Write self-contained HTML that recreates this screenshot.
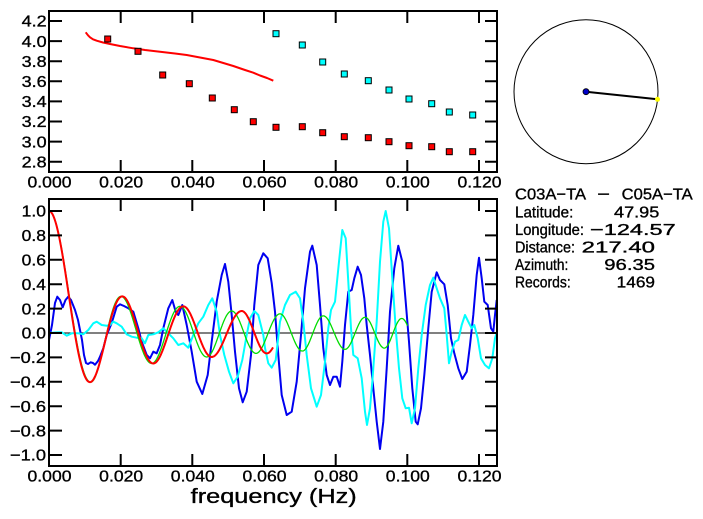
<!DOCTYPE html>
<html>
<head>
<meta charset="utf-8">
<style>
  html,body{margin:0;padding:0;background:#fff;}
  svg{display:block;}
  text{font-family:"Liberation Sans",sans-serif;fill:#000;stroke:#000;stroke-width:0.35;}
</style>
</head>
<body>
<svg id="s" width="703" height="519" viewBox="0 0 703 519" xmlns="http://www.w3.org/2000/svg">
<rect width="703" height="519" fill="#fff"/>

<!-- ===== TOP PLOT ===== -->
<g stroke="#000" stroke-width="2" fill="none">
  <rect x="49" y="11" width="448" height="161"/>
  <path d="M49 21H62M49 41.1H62M49 61.2H62M49 81.3H62M49 101.4H62M49 121.5H62M49 141.6H62M49 161.7H62
           M485 21H497M485 41.1H497M485 61.2H497M485 81.3H497M485 101.4H497M485 121.5H497M485 141.6H497M485 161.7H497
           M120.7 11V23M192.3 11V23M264 11V23M335.7 11V23M407.3 11V23M479 11V23
           M120.7 172V160M192.3 172V160M264 172V160M335.7 172V160M407.3 172V160M479 172V160"/>
</g>
<g font-size="16" text-anchor="end">
  <text x="46.7" y="26.7" textLength="25" lengthAdjust="spacingAndGlyphs">4.2</text>
  <text x="46.7" y="46.8" textLength="25" lengthAdjust="spacingAndGlyphs">4.0</text>
  <text x="46.7" y="66.9" textLength="25" lengthAdjust="spacingAndGlyphs">3.8</text>
  <text x="46.7" y="87" textLength="25" lengthAdjust="spacingAndGlyphs">3.6</text>
  <text x="46.7" y="107.1" textLength="25" lengthAdjust="spacingAndGlyphs">3.4</text>
  <text x="46.7" y="127.2" textLength="25" lengthAdjust="spacingAndGlyphs">3.2</text>
  <text x="46.7" y="147.3" textLength="25" lengthAdjust="spacingAndGlyphs">3.0</text>
  <text x="46.7" y="167.4" textLength="25" lengthAdjust="spacingAndGlyphs">2.8</text>
</g>
<g font-size="16" text-anchor="middle">
  <text x="49.5" y="187.3" textLength="44" lengthAdjust="spacingAndGlyphs">0.000</text>
  <text x="121.2" y="187.3" textLength="44" lengthAdjust="spacingAndGlyphs">0.020</text>
  <text x="192.8" y="187.3" textLength="44" lengthAdjust="spacingAndGlyphs">0.040</text>
  <text x="264.5" y="187.3" textLength="44" lengthAdjust="spacingAndGlyphs">0.060</text>
  <text x="336.2" y="187.3" textLength="44" lengthAdjust="spacingAndGlyphs">0.080</text>
  <text x="407.8" y="187.3" textLength="44" lengthAdjust="spacingAndGlyphs">0.100</text>
  <text x="479.5" y="187.3" textLength="44" lengthAdjust="spacingAndGlyphs">0.120</text>
</g>

<!-- phase velocity curve -->
<polyline fill="none" stroke="#ff0000" stroke-width="2" stroke-linejoin="round"
 points="85.7,32.3 88,35.3 90,37.3 93,39.3 96.7,40.7 103,42.5 110,44 120,46 133.3,48.3 145,50 160,51.7 175,53.5 186.7,55 200,57.5 213.3,60 225,63.5 233.3,66 245,70 253.3,72.7 260,75.5 267,78 273.3,80.7"/>

<!-- red squares -->
<g fill="#ff0000" stroke="#000" stroke-width="1">
  <rect x="104.7" y="36" width="6" height="6"/>
  <rect x="135" y="48.3" width="6" height="6"/>
  <rect x="159.7" y="72" width="6" height="6"/>
  <rect x="186.3" y="80.7" width="6" height="6"/>
  <rect x="209.3" y="95" width="6" height="6"/>
  <rect x="231.3" y="106.7" width="6" height="6"/>
  <rect x="250.3" y="118.7" width="6" height="6"/>
  <rect x="273" y="124.3" width="6" height="6"/>
  <rect x="299.3" y="123.7" width="6" height="6"/>
  <rect x="319.7" y="129.7" width="6" height="6"/>
  <rect x="341.3" y="133.7" width="6" height="6"/>
  <rect x="365.3" y="134.7" width="6" height="6"/>
  <rect x="386" y="138.7" width="6" height="6"/>
  <rect x="406" y="142.7" width="6" height="6"/>
  <rect x="428.7" y="143.7" width="6" height="6"/>
  <rect x="446.3" y="148.7" width="6" height="6"/>
  <rect x="469.7" y="148.7" width="6" height="6"/>
</g>
<!-- cyan squares -->
<g fill="#00ffff" stroke="#000" stroke-width="1">
  <rect x="273" y="30.7" width="6" height="6"/>
  <rect x="299.3" y="42" width="6" height="6"/>
  <rect x="319.7" y="59" width="6" height="6"/>
  <rect x="341.3" y="71" width="6" height="6"/>
  <rect x="365.3" y="77.7" width="6" height="6"/>
  <rect x="386" y="87" width="6" height="6"/>
  <rect x="406" y="96" width="6" height="6"/>
  <rect x="428.7" y="100.7" width="6" height="6"/>
  <rect x="446.3" y="109" width="6" height="6"/>
  <rect x="469.7" y="112" width="6" height="6"/>
</g>

<!-- ===== MAP CIRCLE ===== -->
<circle cx="586" cy="91.7" r="72" fill="none" stroke="#000" stroke-width="1"/>
<line x1="586" y1="91.7" x2="657.3" y2="99.3" stroke="#000" stroke-width="2"/>
<circle cx="586" cy="91.7" r="3" fill="#0000c8" stroke="#000" stroke-width="0.8"/>
<circle cx="657.5" cy="99.3" r="2.5" fill="#ffff00"/>

<!-- ===== INFO TEXT ===== -->
<g font-size="16">
  <text x="515" y="199.7" textLength="71" lengthAdjust="spacingAndGlyphs">C03A−TA</text>
  <text x="597.3" y="199.7" textLength="12.7" lengthAdjust="spacingAndGlyphs">−</text>
  <text x="621.7" y="199.7" textLength="71" lengthAdjust="spacingAndGlyphs">C05A−TA</text>

  <text x="515" y="217.3" textLength="58.3" lengthAdjust="spacingAndGlyphs">Latitude:</text>
  <text x="614" y="217.3" textLength="45.3" lengthAdjust="spacingAndGlyphs">47.95</text>

  <text x="515" y="234.8" textLength="69" lengthAdjust="spacingAndGlyphs">Longitude:</text>
  <text x="590" y="234.8" textLength="85.7" lengthAdjust="spacingAndGlyphs">−124.57</text>

  <text x="515" y="252.3" textLength="60" lengthAdjust="spacingAndGlyphs">Distance:</text>
  <text x="581.7" y="252.3" textLength="73.3" lengthAdjust="spacingAndGlyphs">217.40</text>

  <text x="515" y="269.8" textLength="53.3" lengthAdjust="spacingAndGlyphs">Azimuth:</text>
  <text x="604.3" y="269.8" textLength="50.7" lengthAdjust="spacingAndGlyphs">96.35</text>

  <text x="515" y="287.3" textLength="55.7" lengthAdjust="spacingAndGlyphs">Records:</text>
  <text x="616.7" y="287.3" textLength="38.3" lengthAdjust="spacingAndGlyphs">1469</text>
</g>

<!-- ===== BOTTOM PLOT ===== -->
<line x1="49" y1="333" x2="497" y2="333" stroke="#000" stroke-width="1"/>

<!-- blue -->
<polyline fill="none" stroke="#0000f0" stroke-width="2" stroke-linejoin="round"
 points="49,340 52,325 55,303 57.3,296.7 60,300 62.7,307.3 65.5,300 68.3,296.7 71,300 75,310 78,320 80,330 82,340 84,355 86,363 88,364 90.7,362.3 93,363 95,364.7 98,361 100,356.7 103.3,348.3 106.7,335 111.7,323 116.7,306.7 120,304.3 124,306 128.3,308.3 133.3,311.7 138.3,328.3 141.7,341.7 146.7,355 150,358.3 153.3,351.7 156.7,353.3 160,345 163.3,328.3 168.3,308.3 172.3,300 175.7,311.7 178.3,315 182.3,305 186.7,325 191.7,351.7 196.7,381.7 202.3,394 207.7,375 211.7,341.7 216.7,301.7 221.7,275 225,264 228.3,281.7 231.7,315 235,351.7 239,388.3 242.7,402.3 246.7,391.7 251,355 254.3,305 258.3,265 263.3,253.3 267.7,258.3 271.7,283 275,311.7 278.3,355 281.7,395 286.7,415 291.7,411.7 296.7,381.7 301,335 305,288.3 310,251.7 312.3,245.7 316.7,265 320,305 323.3,348.3 326.7,375 330,385 333.3,376.7 336.7,376.7 340,386.7 342.3,361.7 345,325 348.3,291.7 351.7,290 354.3,278.3 357.7,266.7 361,275 364.3,298.3 366.7,325 370,355 373.3,388.3 376.7,421.7 380,449 383.3,421.7 386.7,368.3 390,311.7 394.3,268.3 398.3,245.7 402.3,261.7 405.7,301.7 409,341.7 412.3,388.3 415.7,421.7 417.7,424.3 421,408.3 424.3,375 428.3,328.3 431.7,291.7 436.7,272.3 440,280 444.3,284.3 447.7,305 451,338.3 454.3,353.3 458.3,368.3 462.3,379 466.7,371.7 470,345 473.3,315 476.7,275 479,257.7 481.7,278.3 484.3,301.7 487.7,305 491,328.3 493.3,331.7 495,315 496.7,300"/>

<!-- cyan -->
<polyline fill="none" stroke="#00ffff" stroke-width="2" stroke-linejoin="round"
 points="49,333 55,332.5 61.7,332.3 66.7,335.7 71.7,333.3 78.3,333.3 83.3,334.3 88.3,330 93.3,323.3 96.7,321.7 101.7,325 106.7,325.7 110,325 113.3,321.7 116.7,323.3 121.7,326.7 126.7,334.3 131.7,336.7 136.7,337.7 141.7,338.3 145,343.3 148.3,335 153.3,334.3 158.3,332.3 163.3,328.3 168.3,333.3 173.3,338.3 178.3,345 183.3,343.3 188.3,347.7 193.3,335 198.3,323.3 203.3,316.7 208.3,305 212.3,298.3 216.7,311.7 220,335 224.3,355 229,371.7 233.3,383.3 237.7,376.7 242.3,360 246.7,335 250,318.3 254.3,311 258.3,315 263.3,335 265,348 268.3,363.3 271.7,367.7 275.7,360 280,321.7 285,305 290,295 295.7,291.7 300,298.3 303.3,321.7 306.7,355 311,388.3 316.7,406.7 321,395 325,361.7 328.3,328.3 331,310 335,301.7 339,261.7 342.3,230 345.7,238.3 348.3,281.7 351,328.3 353.3,355 357.7,358.3 361.7,378.3 365,411.7 367,425 370,408.3 372.3,381.7 376.7,321.7 380,261.7 383.3,221.7 385.7,211 389,228.3 392.3,278.3 395.7,328.3 399,368.3 402.3,398.3 405.7,408.3 409,407.7 411.7,423.3 415,408.3 418.3,368.3 421.7,335 425.7,305 430,285 433.3,277.7 436.7,288.3 440,298.3 444.3,308.3 446.7,335 449,363.3 451.7,351.7 455,341.7 458.3,340 461.7,325 465,315 468.3,321.7 471.7,328.3 474.3,325 477.7,338.3 481,358.3 485,365 489,368.3 492.3,358.3 495,338.3 497,331.7"/>

<polyline id="green" fill="none" stroke="#00dd00" stroke-width="1.3" stroke-linejoin="round" points=""/>
<polyline id="red" fill="none" stroke="#ff0000" stroke-width="2" stroke-linejoin="round" points=""/>

<g stroke="#000" stroke-width="2" fill="none">
  <rect x="49" y="199" width="448" height="267"/>
  <path d="M49 211H62M49 235.4H62M49 259.8H62M49 284.2H62M49 308.6H62M49 333H62M49 357.4H62M49 381.8H62M49 406.2H62M49 430.6H62M49 455H62
           M485 211H497M485 235.4H497M485 259.8H497M485 284.2H497M485 308.6H497M485 333H497M485 357.4H497M485 381.8H497M485 406.2H497M485 430.6H497M485 455H497
           M120.7 199V211M192.3 199V211M264 199V211M335.7 199V211M407.3 199V211M479 199V211
           M120.7 466V454M192.3 466V454M264 466V454M335.7 466V454M407.3 466V454M479 466V454"/>
</g>
<g font-size="16" text-anchor="end">
  <text x="46" y="216.7" textLength="24.3" lengthAdjust="spacingAndGlyphs">1.0</text>
  <text x="46" y="241.1" textLength="24.3" lengthAdjust="spacingAndGlyphs">0.8</text>
  <text x="46" y="265.5" textLength="24.3" lengthAdjust="spacingAndGlyphs">0.6</text>
  <text x="46" y="289.9" textLength="24.3" lengthAdjust="spacingAndGlyphs">0.4</text>
  <text x="46" y="314.3" textLength="24.3" lengthAdjust="spacingAndGlyphs">0.2</text>
  <text x="46" y="338.7" textLength="24.3" lengthAdjust="spacingAndGlyphs">0.0</text>
  <text x="46" y="363.1" textLength="36" lengthAdjust="spacingAndGlyphs">−0.2</text>
  <text x="46" y="387.5" textLength="36" lengthAdjust="spacingAndGlyphs">−0.4</text>
  <text x="46" y="411.9" textLength="36" lengthAdjust="spacingAndGlyphs">−0.6</text>
  <text x="46" y="436.3" textLength="36" lengthAdjust="spacingAndGlyphs">−0.8</text>
  <text x="46" y="460.7" textLength="36" lengthAdjust="spacingAndGlyphs">−1.0</text>
</g>
<g font-size="16" text-anchor="middle">
  <text x="49.5" y="481.7" textLength="44" lengthAdjust="spacingAndGlyphs">0.000</text>
  <text x="121.2" y="481.7" textLength="44" lengthAdjust="spacingAndGlyphs">0.020</text>
  <text x="192.8" y="481.7" textLength="44" lengthAdjust="spacingAndGlyphs">0.040</text>
  <text x="264.5" y="481.7" textLength="44" lengthAdjust="spacingAndGlyphs">0.060</text>
  <text x="336.2" y="481.7" textLength="44" lengthAdjust="spacingAndGlyphs">0.080</text>
  <text x="407.8" y="481.7" textLength="44" lengthAdjust="spacingAndGlyphs">0.100</text>
  <text x="479.5" y="481.7" textLength="44" lengthAdjust="spacingAndGlyphs">0.120</text>
</g>
<text x="190.7" y="503" font-size="20" textLength="166" lengthAdjust="spacingAndGlyphs">frequency (Hz)</text>
</svg>

<script>
(function(){
  function J0(x){
    var s=0,N=240;
    for(var i=0;i<N;i++){var t=(i+0.5)*Math.PI/N; s+=Math.cos(x*Math.sin(t));}
    return s/N;
  }
  function interp(K,px){
    var n=K.length,i;
    if(px<=K[0][0]) i=0;
    else if(px>=K[n-1][0]) i=n-2;
    else { for(i=0;i<n-1;i++){ if(px<=K[i+1][0]) break; } }
    var a=K[i],b=K[i+1];
    return a[1]+(b[1]-a[1])*(px-a[0])/(b[0]-a[0]);
  }
  var redK=[[49,0],[90,3.8317],[122.3,7.0156],[153.3,10.1735],[183.3,13.3237],[211.7,16.4706],[241.7,19.6159],[266.7,22.7601]];
  var grnK=[[49,0],[90.7,3.8317],[121,7.0156],[151.7,10.1735],[180,13.3237],[206.7,16.4706],[231.7,19.6159],[256,22.7601],[280,25.9037],[302.3,29.0468],[323.3,32.1897],[345,35.3323],[365,38.4748],[384.3,41.6171],[401.7,44.7593]];
  function build(K,x0,x1){
    var pts=[];
    for(var px=x0;px<=x1+1e-6;px+=0.5){
      var v=J0(interp(K,px));
      pts.push(px.toFixed(1)+","+(333-v*122).toFixed(1));
    }
    return pts.join(" ");
  }
  document.getElementById("red").setAttribute("points",build(redK,49,273.3));
  document.getElementById("green").setAttribute("points",build(grnK,49,407.7));
})();
</script>
</body>
</html>
